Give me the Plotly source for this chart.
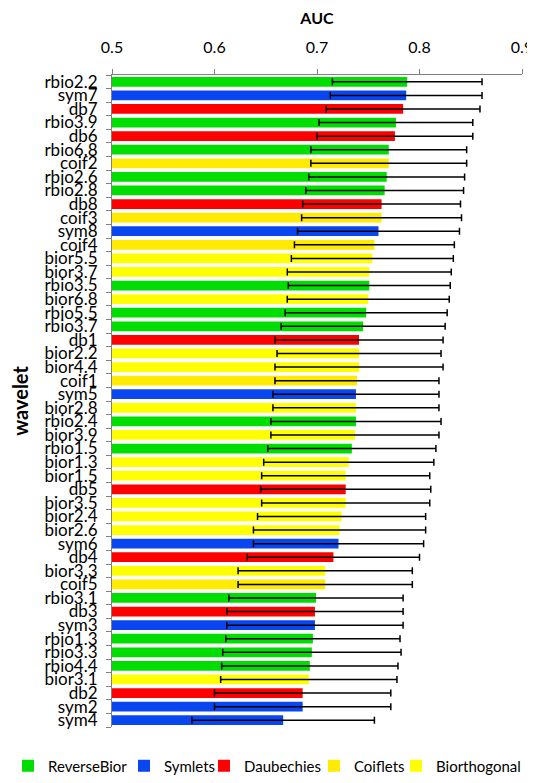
import plotly.graph_objects as go

wavelets = ["rbio2.2", "sym7", "db7", "rbio3.9", "db6", "rbio6.8", "coif2", "rbio2.6", "rbio2.8",
            "db8", "coif3", "sym8", "coif4", "bior5.5", "bior3.7", "rbio3.5", "bior6.8", "rbio5.5",
            "rbio3.7", "db1", "bior2.2", "bior4.4", "coif1", "sym5", "bior2.8", "rbio2.4", "bior3.9",
            "rbio1.5", "bior1.3", "bior1.5", "db5", "bior3.5", "bior2.4", "bior2.6", "sym6", "db4",
            "bior3.3", "coif5", "rbio3.1", "db3", "sym3", "rbio1.3", "rbio3.3", "rbio4.4", "bior3.1",
            "db2", "sym2", "sym4"]

auc = [0.788, 0.787, 0.784, 0.777, 0.776, 0.770, 0.770, 0.768, 0.766,
       0.763, 0.763, 0.760, 0.756, 0.754, 0.751, 0.751, 0.750, 0.748,
       0.745, 0.741, 0.741, 0.741, 0.739, 0.738, 0.738, 0.738, 0.737,
       0.734, 0.731, 0.728, 0.728, 0.728, 0.724, 0.722, 0.721, 0.716,
       0.708, 0.708, 0.699, 0.698, 0.698, 0.696, 0.695, 0.693, 0.692,
       0.686, 0.686, 0.667]

sd = [0.073, 0.074, 0.075, 0.075, 0.076, 0.076, 0.076, 0.076, 0.077,
      0.077, 0.078, 0.079, 0.078, 0.079, 0.080, 0.079, 0.079, 0.079,
      0.080, 0.082, 0.080, 0.082, 0.080, 0.081, 0.081, 0.083, 0.082,
      0.082, 0.083, 0.082, 0.083, 0.082, 0.082, 0.084, 0.083, 0.084,
      0.085, 0.085, 0.085, 0.086, 0.086, 0.085, 0.087, 0.086, 0.086,
      0.086, 0.086, 0.089]

families = ["ReverseBior", "Symlets", "Daubechies", "Coiflets", "Biorthogonal"]
prefixes = ["rbio", "sym", "db", "coif", "bior"]
colors = ["#00DD00", "#0A46F0", "#FF0000", "#FFEA00", "#FFFF00"]
BASE = 0.5

# page has an 8px body margin, so the figure is sized to fit the 535x783 window
W, H = 527, 767
L, R, T, B = 104, 13, 67, 48
plot_w = W - L - R
plot_h = H - T - B
# legend box left edges (figure px)
legend_px = [0, 116, 196, 306, 388]

fig = go.Figure()
for k, (fam, pre, col) in enumerate(zip(families, prefixes, colors)):
    idx = [i for i, w in enumerate(wavelets) if w.startswith(pre)]
    fig.add_trace(go.Bar(
        name=fam,
        orientation="h",
        y=[wavelets[i] for i in idx],
        x=[auc[i] - BASE for i in idx],
        base=BASE,
        marker=dict(color=col, line=dict(width=0)),
        error_x=dict(type="data", array=[sd[i] for i in idx], color="black",
                     thickness=1.5, width=3.5),
        width=0.72,
        legend="legend" if k == 0 else f"legend{k+1}",
    ))

legends = {}
for k in range(5):
    key = "legend" if k == 0 else f"legend{k+1}"
    legends[key] = dict(orientation="h", x=(legend_px[k] - L) / plot_w, xanchor="left",
                        y=-39 / plot_h, yanchor="middle", font=dict(size=15),
                        itemwidth=30, bgcolor="rgba(0,0,0,0)")

fig.update_layout(
    width=W, height=H,
    barmode="overlay",
    plot_bgcolor="white", paper_bgcolor="white",
    margin=dict(l=L, r=R, t=T, b=B, autoexpand=False),
    font=dict(family="Lato, Open Sans, sans-serif", size=15, color="black"),
    showlegend=True,
    **legends,
)
fig.update_xaxes(
    side="top", range=[0.5, 0.9], dtick=0.1, tickformat=".1f", automargin=False,
    showgrid=False, zeroline=False, showline=True, linecolor="#808080", linewidth=1,
    ticks="outside", ticklen=5, tickcolor="#808080", ticklabelstandoff=10,
    title=dict(text="<b>AUC</b>", font=dict(size=16), standoff=14),
    tickfont=dict(size=16),
)
fig.update_yaxes(
    type="category", categoryorder="array", categoryarray=wavelets, autorange="reversed",
    tickmode="array", tickvals=wavelets, ticktext=wavelets, automargin=False,
    showgrid=False, zeroline=False, showline=True, linecolor="#808080", linewidth=1,
    ticks="outside", ticklen=5, tickcolor="#808080", tickson="boundaries",
    ticklabelstandoff=10,
    title=dict(text="<b>wavelet</b>", font=dict(size=20), standoff=12),
    tickfont=dict(size=17),
)
fig.write_html("out.html")
